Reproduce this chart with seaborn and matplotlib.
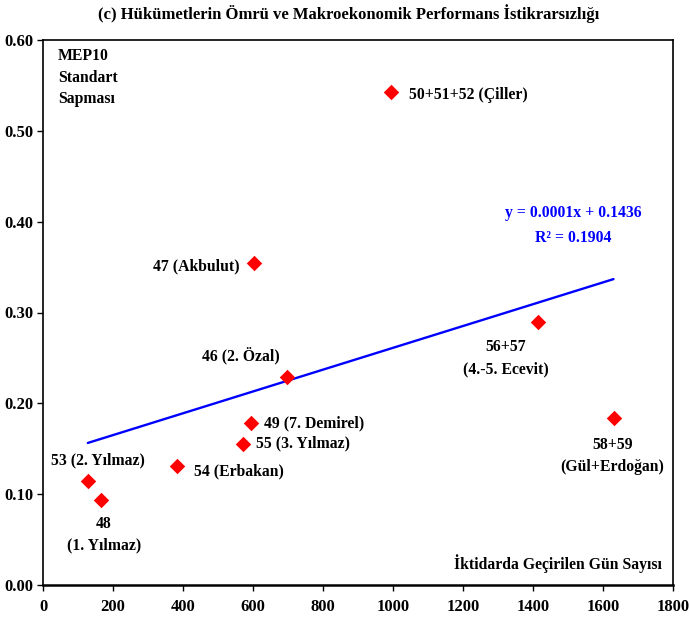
import matplotlib
matplotlib.use("Agg")
import matplotlib.pyplot as plt
import seaborn as sns
import pandas as pd
import numpy as np

labels = ["53 (2. Yılmaz)", "48\n(1. Yılmaz)", "54 (Erbakan)", "55 (3. Yılmaz)",
          "49 (7. Demirel)", "46 (2. Özal)", "47 (Akbulut)", "50+51+52 (Çiller)",
          "56+57\n(4.-5. Ecevit)", "58+59\n(Gül+Erdoğan)"]
days = [128, 165, 382, 570, 593, 698, 604, 994, 1413, 1630]
sd = [0.115, 0.094, 0.131, 0.155, 0.178, 0.229, 0.354, 0.543, 0.289, 0.184]

x_ticks = [0, 200, 400, 600, 800, 1000, 1200, 1400, 1600, 1800]
y_ticks = [0.0, 0.1, 0.2, 0.3, 0.4, 0.5, 0.6]

df = pd.DataFrame({"label": labels, "days": days, "sd": sd})

sns.set_theme(style="white")
plt.rcParams['font.family'] = ['Liberation Serif', 'DejaVu Serif']
plt.rcParams['font.weight'] = 'bold'
plt.rcParams['text.color'] = 'black'

FS = 11.3

fig = plt.figure(figsize=(6.89, 6.24), dpi=100)
ax = fig.add_axes([43/689, 1-585/624, 630/689, 545/624])

sns.regplot(data=df, x="days", y="sd", ax=ax, ci=None, truncate=True, marker="D",
            scatter_kws=dict(s=62, color="#FF0000", alpha=1, linewidths=0, zorder=3),
            line_kws=dict(color="#0000FF", lw=1.7, zorder=2))

# label offsets (pixels) and alignment
offs = {
    "53 (2. Yılmaz)": (10, 20, "center"),
    "48\n(1. Yılmaz)": (3, -35, "center"),
    "54 (Erbakan)": (17, -5, "left"),
    "55 (3. Yılmaz)": (13, 1, "left"),
    "49 (7. Demirel)": (13, 0, "left"),
    "46 (2. Özal)": (-46, 21, "center"),
    "47 (Akbulut)": (-15, -3, "right"),
    "50+51+52 (Çiller)": (18, -3, "left"),
    "56+57\n(4.-5. Ecevit)": (-32, -36, "center"),
    "58+59\n(Gül+Erdoğan)": (-1, -38, "center"),
}
for lab, xv, yv in zip(labels, days, sd):
    dx, dy, ha = offs[lab]
    ax.annotate(lab, (xv, yv), xytext=(dx, dy), textcoords="offset pixels",
                ha=ha, va="center", fontsize=FS, fontweight="bold",
                color="black", multialignment="center", linespacing=1.5)

ax.set_xlim(0, 1800)
ax.set_ylim(0, 0.6)
ax.set_xticks(x_ticks)
ax.set_yticks(y_ticks)
ax.set_xticklabels([str(v) for v in x_ticks], fontsize=12, fontweight="bold")
ax.set_yticklabels([f"{v:.2f}" for v in y_ticks], fontsize=12, fontweight="bold")
ax.set_xlabel("")
ax.set_ylabel("")
ax.tick_params(axis="both", direction="out", length=4, width=1, colors="black",
               labelcolor="black", bottom=True, left=True, pad=3)
ax.tick_params(axis="x", pad=6)
for s in ax.spines.values():
    s.set_visible(True)
    s.set_color("black")
    s.set_linewidth(1.2)
ax.spines["bottom"].set_linewidth(1.8)

ax.text(0.024, 0.985, "MEP10\nStandart\nSapması", transform=ax.transAxes,
        ha="left", va="top", fontsize=FS, fontweight="bold", linespacing=1.45,
        color="black")
ax.text(0.982, 0.04, "İktidarda Geçirilen Gün Sayısı", transform=ax.transAxes,
        ha="right", va="center", fontsize=FS, fontweight="bold", color="black")
ax.text(0.842, 0.66, "y = 0.0001x + 0.1436\nR² = 0.1904", transform=ax.transAxes,
        ha="center", va="center", fontsize=FS, fontweight="bold", color="#0000FF",
        linespacing=1.7)

fig.text(349/689, 1-14/624, "(c) Hükümetlerin Ömrü ve Makroekonomik Performans İstikrarsızlığı",
         ha="center", va="center", fontsize=12, fontweight="bold", color="black")

fig.savefig("out.png", dpi=100)
